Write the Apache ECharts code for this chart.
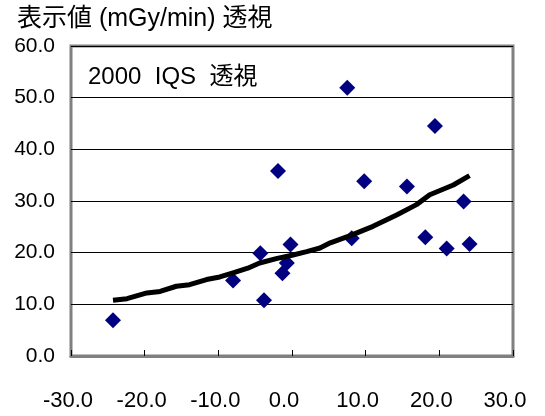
<!DOCTYPE html>
<html>
<head>
<meta charset="utf-8">
<script src="https://cdn.jsdelivr.net/npm/echarts@6/dist/echarts.min.js"></script>
<style>
  html, body { margin: 0; padding: 0; background: #fff; }
  #chart { width: 545px; height: 416px; }
</style>
</head>
<body>
<div id="chart"></div>
<script>
// Measured dose-rate readings (x: deviation, y: displayed value in mGy/min)
const pointX = [-24.3, -8.0, -4.3, -3.8, -1.9, -1.3, -0.7, -0.2, 7.5, 8.1, 9.8, 15.6, 18.1, 19.4, 21.0, 23.3, 24.1];
const pointY = [6.9, 14.6, 19.9, 10.8, 35.8, 16.0, 18.0, 21.6, 51.9, 22.8, 33.8, 32.8, 23.0, 44.5, 20.8, 29.9, 21.7];

// Trend curve as drawn
const trendX = [-24.3, -22.4, -19.7, -17.9, -15.7, -13.9, -11.6, -9.8, -8.0, -6.0, -4.4, -2.0, 0.0, 2.0, 3.8, 5.2, 7.9, 11.0, 14.2, 16.9, 18.7, 21.9, 24.1];
const trendY = [10.8, 11.1, 12.2, 12.5, 13.5, 13.8, 14.8, 15.3, 16.1, 17.0, 18.0, 18.9, 19.5, 20.2, 20.9, 21.9, 23.3, 25.1, 27.3, 29.3, 31.2, 33.1, 34.9];

const titleText = '表示値 (mGy/min) 透視';
const seriesLabel = '2000  IQS  透視';

const latin = '"Liberation Sans", Arial, "Noto Sans CJK JP", sans-serif';

const chart = echarts.init(document.getElementById('chart'), null, { renderer: 'canvas' });

chart.setOption({
  animation: false,
  backgroundColor: '#ffffff',
  title: {
    text: titleText,
    left: 12,
    top: 2,
    textStyle: { fontFamily: latin, fontSize: 25, fontWeight: 'normal', color: '#000' }
  },
  graphic: [{
    type: 'text',
    left: 88,
    top: 65,
    z: 10,
    style: { text: seriesLabel, font: '24px ' + latin, fill: '#000' }
  }],
  grid: {
    left: 71, right: 32, top: 46, bottom: 60,
    show: true,
    borderColor: '#808080',
    borderWidth: 3,
    backgroundColor: 'transparent'
  },
  xAxis: {
    type: 'value',
    min: -30, max: 30, interval: 10,
    axisLine: { show: true, onZero: false, lineStyle: { color: '#808080', width: 3 } },
    axisTick: { show: true, inside: true, length: 6, lineStyle: { color: '#000', width: 1 } },
    splitLine: { show: false },
    axisLabel: {
      margin: 34,
      fontFamily: latin, fontSize: 22, color: '#000',
      formatter: v => (v < 0 ? '{n|' : '{p|') + v.toFixed(1) + '}',
      rich: {
        n: { fontFamily: latin, fontSize: 22, color: '#000', padding: [0, 6, 0, 0] },
        p: { fontFamily: latin, fontSize: 22, color: '#000', padding: [0, 16, 0, 0] }
      }
    }
  },
  yAxis: {
    type: 'value',
    min: 0, max: 60, interval: 10,
    axisLine: { show: false },
    axisTick: { show: false },
    splitLine: { show: true, lineStyle: { color: '#000', width: 1 } },
    axisLabel: {
      margin: 16,
      padding: [6, 0, 0, 0],
      fontFamily: latin, fontSize: 21, color: '#000',
      formatter: v => v.toFixed(1)
    }
  },
  series: [
    {
      type: 'scatter',
      symbol: 'diamond',
      symbolSize: 16,
      itemStyle: { color: '#000080', opacity: 1 },
      data: pointX.map((x, i) => [x, pointY[i]]),
      z: 2
    },
    {
      type: 'line',
      showSymbol: false,
      symbol: 'none',
      smooth: false,
      lineStyle: { color: '#000', width: 5, cap: 'butt', join: 'round' },
      data: trendX.map((x, i) => [x, trendY[i]]),
      z: 3
    }
  ]
});
</script>
</body>
</html>
